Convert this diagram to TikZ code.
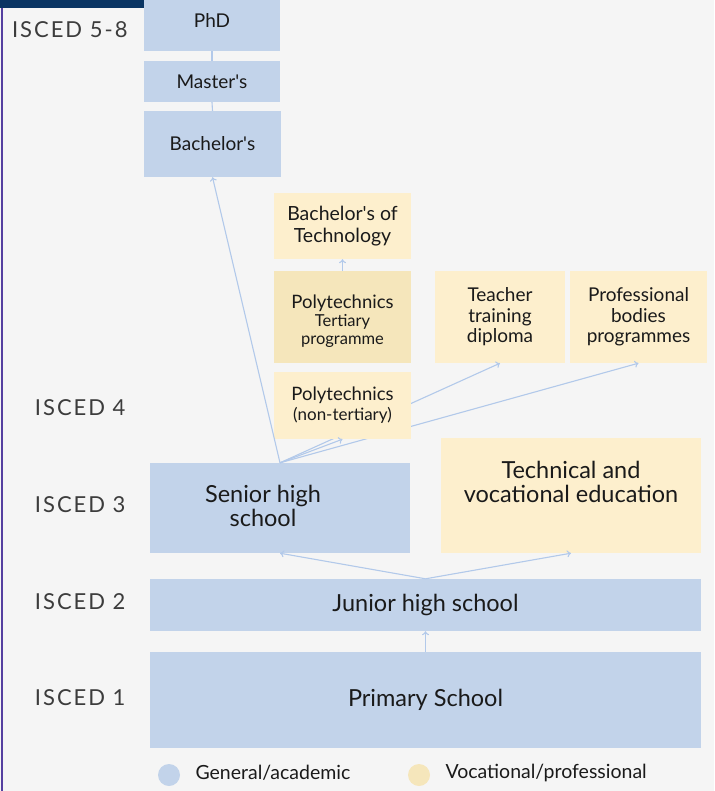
\documentclass[tikz,border=0pt]{standalone}
\usepackage{fontspec}
\setmainfont{Lato}
\newfontfamily\iscedfont[LetterSpace=9]{Lato}
\usetikzlibrary{arrows.meta,backgrounds}
\definecolor{bg}{HTML}{F5F5F5}
\definecolor{gblue}{HTML}{C2D3EA}
\definecolor{vyel}{HTML}{FDEFCD}
\definecolor{vyeld}{HTML}{F5E6BB}
\definecolor{navy}{HTML}{0A3563}
\definecolor{purp}{HTML}{5540A0}
\definecolor{arr}{HTML}{B2C9EA}
\definecolor{txt}{HTML}{1A1A1A}
\tikzset{
  box/.style={inner sep=0pt, align=center, text=txt},
  gbox/.style={box, fill=gblue},
  vbox/.style={box, fill=vyel},
  vdbox/.style={box, fill=vyeld},
  conn/.style={draw=arr, line width=1.1pt},
  arrow/.style={conn, -{To[length=4pt,width=7pt]}},
  lvl/.style={anchor=east, text=txt!85, font=\iscedfont\fontsize{22}{24}\selectfont},
  leg/.style={anchor=west, text=txt, font=\fontsize{19.5}{22}\selectfont},
}
\begin{document}
\begin{tikzpicture}[x=1pt,y=-1pt]
\useasboundingbox (0,0) rectangle (714,791);
\fill[bg] (0,0) rectangle (714,791);
% top bar and left border
\fill[navy] (0,-5) -- (186,-5) -- (186,0) arc[start angle=0,end angle=-90,radius=8pt] -- (0,8) -- cycle;
\draw[purp, line width=2pt] (1.5,8) -- (1.5,791);
% level labels
\node[lvl] (l58) at (131,30) {ISCED 5-8};
\node[lvl] (l4) at (129,408) {ISCED 4};
\node[lvl] (l3) at (129,505) {ISCED 3};
\node[lvl] (l2) at (129,602) {ISCED 2};
\node[lvl] (l1) at (129,698) {ISCED 1};
% boxes
\node[gbox, minimum width=136pt, minimum height=61pt, font=\fontsize{19}{21}\selectfont] (phd) at (212,20.5) {PhD};
\node[gbox, minimum width=136pt, minimum height=41pt, font=\fontsize{19}{21}\selectfont] (mas) at (212,81.5) {Master\textquotesingle s};
\node[gbox, minimum width=137pt, minimum height=66pt, font=\fontsize{19}{21}\selectfont] (bac) at (212.5,144) {Bachelor\textquotesingle s};
\node[vbox, minimum width=137pt, minimum height=66pt, font=\fontsize{19.5}{22}\selectfont] (btech) at (342.5,226) {Bachelor\textquotesingle s of\\Technology};
\node[vdbox, minimum width=137pt, minimum height=92pt] (polyt) at (342.5,317) {};
\node[text=txt, align=center, inner sep=0pt, font=\fontsize{18.5}{19}\selectfont] (polytt) at (342.5,321) {Polytechnics\\[-1pt]{\fontsize{16.5}{18}\selectfont Tertiary}\\[-1pt]{\fontsize{16.5}{18}\selectfont programme}};
\node[vbox, minimum width=130pt, minimum height=92pt, font=\fontsize{19}{20.5}\selectfont] (teach) at (500,317) {Teacher\\training\\diploma};
\node[vbox, minimum width=137pt, minimum height=92pt, font=\fontsize{19}{20.5}\selectfont] (prof) at (638.5,317) {Professional\\bodies\\programmes};
\node[gbox, minimum width=260pt, minimum height=90pt] (senior) at (280,508) {};
\node[text=txt, align=center, font=\fontsize{23.5}{24}\selectfont] (seniort) at (263,506) {Senior high\\school};
\node[vbox, minimum width=260pt, minimum height=115pt] (tech) at (571,495.5) {};
\node[text=txt, align=center, font=\fontsize{23.5}{24}\selectfont] (techt) at (571,482) {Technical and\\vocational education};
\node[gbox, minimum width=551pt, minimum height=52pt, font=\fontsize{23.5}{24}\selectfont] (jun) at (425.5,605) {Junior high school};
\node[gbox, minimum width=551pt, minimum height=96pt, font=\fontsize{23.5}{24}\selectfont] (prim) at (425.5,700) {Primary School};
% connectors passing behind the non-tertiary box
\draw[arrow] (senior.north) -- (teach.south);
\draw[arrow] (senior.north) -- (prof.south);
\node[vbox, minimum width=137pt, minimum height=67pt, font=\fontsize{18.5}{20}\selectfont] (polynt) at (342.5,405.5) {Polytechnics\\[0pt]{\fontsize{17}{18}\selectfont (non-tertiary)}};
% connectors
\draw[conn] (phd.south) -- (mas.north);
\draw[conn] (mas.south) -- (bac.north);
\draw[arrow] (senior.north) -- (bac.south);
\draw[arrow] (senior.north) -- (polynt.south);
\draw[arrow] (polyt.north) -- (btech.south);
\draw[arrow] (jun.north) -- (senior.south);
\draw[arrow] (jun.north) -- (tech.south);
\draw[arrow] (prim.north) -- (jun.south);
% legend
\fill[gblue] (169,775) circle[radius=11pt];
\node[leg] (lg1) at (192,773) {General/academic};
\fill[vyeld] (419,775) circle[radius=11pt];
\node[leg] (lg2) at (442,773) {Vocational/professional};
\end{tikzpicture}
\end{document}
